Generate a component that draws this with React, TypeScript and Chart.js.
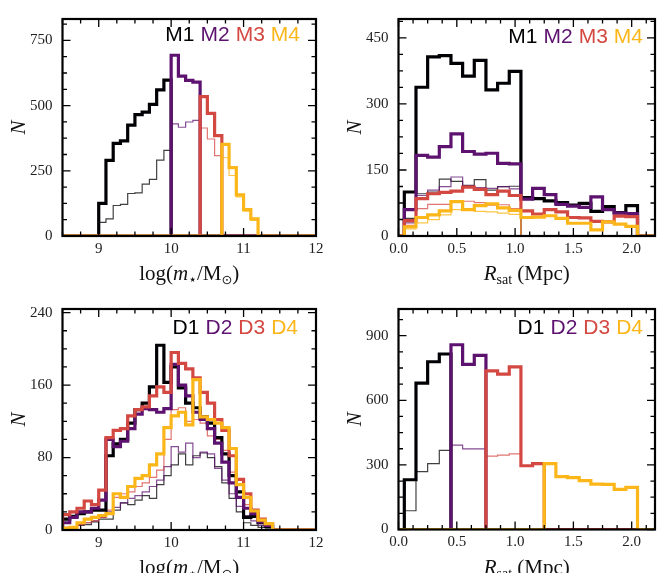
import React, { useEffect, useRef } from 'react';
import { Chart, registerables } from 'chart.js';

Chart.register(...registerables);

// ---------- colours ----------
const COLORS = ['#000004', '#5c126e', '#d44842', '#fbb61a'];
const THIN_COLORS = ['rgba(0,0,4,0.75)', 'rgba(92,18,110,0.75)', 'rgba(212,72,66,0.75)', 'rgba(251,182,26,0.8)'];

// ---------- panel 1: stellar mass, M samples ----------
const M_MASS_EDGES_1 = [9.0, 9.1, 9.2, 9.3, 9.4, 9.5, 9.6, 9.7, 9.8, 9.9, 10.0];
const M_MASS_EDGES_2 = [10.0, 10.1, 10.2, 10.3, 10.4];
const M_MASS_EDGES_3 = [10.4, 10.5, 10.6, 10.7];
const M_MASS_EDGES_4 = [10.7, 10.8, 10.9, 11.0, 11.1, 11.2];
const M_MASS_EDGES_4_THIN = [10.7, 10.8, 10.9, 11.0, 11.1, 11.2, 11.3];

const M1_MASS = [125, 290, 355, 365, 425, 465, 475, 505, 560, 598];
const M1_MASS_THIN = [52, 66, 117, 121, 163, 165, 199, 217, 291, 328];
const M2_MASS = [693, 613, 597, 590];
const M2_MASS_THIN = [430, 417, 437, 443];
const M3_MASS = [534, 470, 385];
const M3_MASS_THIN = [414, 372, 308];
const M4_MASS = [351, 262, 158, 101, 66];
const M4_MASS_THIN = [300, 232, 150, 95, 60, 5];

// ---------- panel 2: R_sat, M samples ----------
const RSAT_EDGES = [0.05, 0.15, 0.25, 0.35, 0.45, 0.55, 0.65, 0.75, 0.85, 0.95, 1.05,
  1.15, 1.25, 1.35, 1.45, 1.55, 1.65, 1.75, 1.85, 1.95, 2.05];
const RSAT_EDGES_INNER = [0.05, 0.15, 0.25, 0.35, 0.45, 0.55, 0.65, 0.75, 0.85, 0.95, 1.05];

const M1_RSAT = [100, 338, 407, 410, 392, 363, 399, 332, 347, 374, 87, 85, 80, 76, 70, 74, 56, 67, 53, 69];
const M2_RSAT = [60, 183, 179, 203, 232, 192, 186, 188, 165, 164, 84, 108, 94, 72, 68, 65, 89, 60, 52, 51];
const M3_RSAT = [35, 85, 96, 99, 102, 111, 106, 94, 102, 92, 57, 50, 60, 55, 42, 41, 33, 32, 45, 44];
const M4_RSAT = [21, 42, 48, 57, 78, 60, 69, 73, 64, 58, 42, 43, 46, 40, 29, 29, 14, 32, 27, 22];
const M1_RSAT_THIN = [40, 96, 100, 129, 124, 115, 128, 104, 112, 113];
const M2_RSAT_THIN = [30, 92, 104, 112, 134, 114, 110, 108, 112, 107];
const M3_RSAT_THIN = [24, 62, 72, 72, 78, 79, 76, 70, 71, 62];
const M4_RSAT_THIN = [16, 30, 37, 48, 60, 58, 56, 55, 52, 49];

// ---------- panel 3: stellar mass, D samples ----------
const D_MASS_EDGES = [8.5, 8.6, 8.7, 8.8, 8.9, 9.0, 9.1, 9.2, 9.3, 9.4, 9.5, 9.6, 9.7, 9.8, 9.9,
  10.0, 10.1, 10.2, 10.3, 10.4, 10.5, 10.6, 10.7, 10.8, 10.9, 11.0, 11.1, 11.2, 11.3, 11.4];

const D1_MASS = [12, 15, 18, 20, 22, 22, 82, 95, 100, 118, 133, 140, 158, 204, 163, 180, 157, 140, 135, 125, 118, 102, 84, 60, 42, 14, 15, 8, 4];
const D2_MASS = [8, 14, 20, 20, 24, 33, 100, 92, 98, 112, 128, 134, 133, 130, 134, 183, 160, 148, 130, 122, 112, 96, 75, 52, 36, 24, 18, 9, 5];
const D3_MASS = [17, 20, 24, 32, 28, 44, 102, 110, 112, 126, 133, 136, 148, 158, 152, 196, 184, 178, 168, 152, 140, 122, 110, 82, 56, 40, 22, 12, 7];
const D4_MASS = [2, 3, 8, 12, 14, 16, 18, 40, 36, 48, 57, 60, 72, 84, 113, 126, 130, 116, 166, 125, 122, 118, 113, 90, 50, 36, 21, 11, 7];
const D1_MASS_THIN = [2, 2, 5, 6, 9, 12, 12, 22, 30, 28, 33, 38, 35, 50, 60, 72, 84, 72, 82, 85, 80, 70, 52, 35, 20, 8, 5, 3, 2];
const D2_MASS_THIN = [3, 3, 6, 8, 10, 14, 20, 25, 30, 35, 38, 42, 48, 55, 70, 92, 86, 96, 80, 86, 84, 68, 55, 40, 26, 16, 10, 5, 3];
const D3_MASS_THIN = [2, 3, 6, 8, 10, 14, 22, 36, 40, 42, 48, 52, 58, 66, 100, 133, 135, 120, 122, 118, 104, 100, 88, 64, 42, 28, 16, 8, 5];

// ---------- panel 4: R_sat, D samples ----------
const D_RSAT_EDGES_1 = [0.05, 0.15, 0.25, 0.35, 0.45];
const D_RSAT_EDGES_2 = [0.45, 0.55, 0.65, 0.75];
const D_RSAT_EDGES_3 = [0.75, 0.85, 0.95, 1.05, 1.15, 1.25];
const D_RSAT_EDGES_4 = [1.25, 1.35, 1.45, 1.55, 1.65, 1.75, 1.85, 1.95, 2.05];

const D1_RSAT = [231, 680, 779, 815];
const D1_RSAT_THIN = [87, 269, 306, 367];
const D2_RSAT = [858, 767, 809];
const D2_RSAT_THIN = [392, 374, 374];
const D3_RSAT = [737, 722, 755, 296, 306];
const D3_RSAT_THIN = [341, 345, 351, 296, 306];
const D4_RSAT = [306, 246, 241, 227, 211, 210, 186, 196];

// ---------- tick labels ----------
const MASS_TICKS = [9, 10, 11, 12];
const RSAT_TICKS = [0, 0.5, 1.0, 1.5, 2.0];
const Y_TICKS_1 = [0, 250, 500, 750];
const Y_TICKS_2 = [0, 150, 300, 450];
const Y_TICKS_3 = [0, 80, 160, 240];
const Y_TICKS_4 = [0, 300, 600, 900];
const LEGEND_M = ['M1', 'M2', 'M3', 'M4'];
const LEGEND_D = ['D1', 'D2', 'D3', 'D4'];

type Series = { edges: number[]; values: number[]; idx: number; thin?: boolean };

interface PanelSpec {
  left: number; top: number; width: number; height: number;
  area: { left: number; right: number; top: number; bottom: number };
  xMin: number; xMax: number; yMax: number;
  xTicks: number[]; yTicks: number[]; kind: 'mass' | 'rsat';
  legend: string[]; legendRight: number; legendBase: number;
  series: Series[];
}

function buildSteps(edges: number[], values: number[], xMin: number, xMax: number) {
  const pts: { x: number; y: number }[] = [{ x: xMin, y: 0 }];
  for (let i = 0; i < values.length; i++) pts.push({ x: edges[i], y: values[i] });
  pts.push({ x: edges[values.length], y: 0 });
  pts.push({ x: xMax, y: 0 });
  return pts;
}

function minorValues(major: number[], min: number, max: number) {
  const step = (major[1] - major[0]) / 4;
  const out: number[] = [];
  const start = Math.ceil((min - 1e-9) / step);
  for (let k = start; k * step <= max + 1e-9; k++) {
    const v = k * step;
    if (!major.some((m) => Math.abs(m - v) < 1e-6)) out.push(v);
  }
  return out;
}

function drawRich(ctx: CanvasRenderingContext2D, pieces: { t: string; f: string; dy?: number }[], cx: number, base: number) {
  let total = 0;
  for (const p of pieces) { ctx.font = p.f; total += ctx.measureText(p.t).width; }
  let x = cx - total / 2;
  ctx.textAlign = 'left';
  ctx.textBaseline = 'alphabetic';
  for (const p of pieces) {
    ctx.font = p.f;
    ctx.fillText(p.t, x, base + (p.dy || 0));
    x += ctx.measureText(p.t).width;
  }
}

const SERIF = '"Liberation Serif", "DejaVu Serif", serif';

function decorPlugin(spec: PanelSpec) {
  return {
    id: 'decor',
    afterDatasetsDraw(chart: any) {
      const { ctx, chartArea: a } = chart;
      const xs = chart.scales.x;
      const ys = chart.scales.y;
      ctx.save();
      ctx.strokeStyle = '#000';
      ctx.lineWidth = 1.3;
      const majorLen = 8;
      const minorLen = 4.5;
      const xMinor = minorValues(spec.xTicks, spec.xMin, spec.xMax);
      const yMinor = minorValues(spec.yTicks, 0, spec.yMax);
      const drawX = (v: number, len: number) => {
        const px = xs.getPixelForValue(v);
        ctx.beginPath();
        ctx.moveTo(px, a.bottom); ctx.lineTo(px, a.bottom - len);
        ctx.moveTo(px, a.top); ctx.lineTo(px, a.top + len);
        ctx.stroke();
      };
      const drawY = (v: number, len: number) => {
        const py = ys.getPixelForValue(v);
        ctx.beginPath();
        ctx.moveTo(a.left, py); ctx.lineTo(a.left + len, py);
        ctx.moveTo(a.right, py); ctx.lineTo(a.right - len, py);
        ctx.stroke();
      };
      spec.xTicks.forEach((v) => drawX(v, majorLen));
      xMinor.forEach((v) => drawX(v, minorLen));
      spec.yTicks.forEach((v) => drawY(v, majorLen));
      yMinor.forEach((v) => drawY(v, minorLen));

      ctx.lineWidth = 2.2;
      ctx.strokeRect(a.left, a.top, a.right - a.left, a.bottom - a.top);

      // legend text
      ctx.font = '21px "Liberation Sans", Arial, sans-serif';
      ctx.textBaseline = 'alphabetic';
      ctx.textAlign = 'left';
      const gap = 6;
      let x = a.right - spec.legendRight;
      for (let i = spec.legend.length - 1; i >= 0; i--) {
        const w = ctx.measureText(spec.legend[i]).width;
        x -= w;
        ctx.fillStyle = COLORS[i];
        ctx.fillText(spec.legend[i], x, a.top + spec.legendBase);
        x -= gap;
      }

      // y title
      ctx.fillStyle = '#111';
      ctx.save();
      ctx.translate(a.left - 38, (a.top + a.bottom) / 2);
      ctx.rotate(-Math.PI / 2);
      ctx.font = 'italic 21px ' + SERIF;
      ctx.textAlign = 'center';
      ctx.textBaseline = 'alphabetic';
      ctx.fillText('N', 0, 0);
      ctx.restore();

      // x title
      const cx = (a.left + a.right) / 2;
      const base = a.bottom + 44;
      if (spec.kind === 'mass') {
        drawRich(ctx, [
          { t: 'log(', f: '21px ' + SERIF },
          { t: 'm', f: 'italic 21px ' + SERIF },
          { t: '\u22C6', f: '14px "DejaVu Sans"', dy: 4 },
          { t: '/M', f: '21px ' + SERIF },
          { t: '\u2299', f: '13px "DejaVu Sans"', dy: 4 },
          { t: ')', f: '21px ' + SERIF },
        ], cx, base);
      } else {
        drawRich(ctx, [
          { t: 'R', f: 'italic 21px ' + SERIF },
          { t: 'sat', f: '14px ' + SERIF, dy: 4 },
          { t: ' (Mpc)', f: '21px ' + SERIF },
        ], cx, base);
      }
      ctx.restore();
    },
  };
}

function Panel({ spec }: { spec: PanelSpec }) {
  const ref = useRef<HTMLCanvasElement>(null);
  useEffect(() => {
    const canvas = ref.current;
    if (!canvas) return;
    const a = spec.area;
    const datasets = spec.series.map((s, i) => ({
      data: buildSteps(s.edges, s.values, spec.xMin, spec.xMax),
      borderColor: s.thin ? THIN_COLORS[s.idx] : COLORS[s.idx],
      borderWidth: s.thin ? 1.2 : 3.2,
      stepped: 'before' as const,
      pointRadius: 0,
      fill: false,
      order: spec.series.length - i,
      borderJoinStyle: 'miter' as const,
      borderCapStyle: 'butt' as const,
    }));
    const tickFont = { family: SERIF, size: 15 };
    const chart = new Chart(canvas, {
      type: 'line',
      data: { datasets },
      options: {
        responsive: false,
        animation: false,
        devicePixelRatio: 1,
        events: [],
        layout: { padding: { top: a.top, right: spec.width - a.right, bottom: 0, left: 0 } },
        plugins: { legend: { display: false }, tooltip: { enabled: false } },
        scales: {
          x: {
            type: 'linear', min: spec.xMin, max: spec.xMax,
            grid: { display: false, drawTicks: false }, border: { display: false },
            afterBuildTicks: (sc: any) => { sc.ticks = spec.xTicks.map((v) => ({ value: v })); },
            afterFit: (sc: any) => { sc.height = spec.height - a.bottom; },
            ticks: {
              font: tickFont, color: '#222', padding: 4, maxRotation: 0, autoSkip: false,
              callback: (v: any) => (spec.kind === 'rsat' ? Number(v).toFixed(1) : String(v)),
            },
          },
          y: {
            type: 'linear', min: 0, max: spec.yMax,
            grid: { display: false, drawTicks: false }, border: { display: false },
            afterBuildTicks: (sc: any) => { sc.ticks = spec.yTicks.map((v) => ({ value: v })); },
            afterFit: (sc: any) => { sc.width = a.left; },
            ticks: { font: tickFont, color: '#222', padding: 10, autoSkip: false, callback: (v: any) => String(v) },
          },
        },
      } as any,
      plugins: [decorPlugin(spec) as any],
    });
    return () => chart.destroy();
  }, [spec]);
  return (
    <div style={{ position: 'absolute', left: spec.left, top: spec.top, width: spec.width, height: spec.height }}>
      <canvas ref={ref} width={spec.width} height={spec.height} style={{ display: 'block' }} />
    </div>
  );
}

const PANELS: PanelSpec[] = [
  {
    left: 0, top: 0, width: 331, height: 290,
    area: { left: 62.5, right: 316, top: 8.5, bottom: 236 },
    xMin: 8.5, xMax: 12, yMax: 832, xTicks: MASS_TICKS, yTicks: Y_TICKS_1, kind: 'mass',
    legend: LEGEND_M, legendRight: 16, legendBase: 22,
    series: [
      { edges: M_MASS_EDGES_1, values: M1_MASS_THIN, idx: 0, thin: true },
      { edges: M_MASS_EDGES_2, values: M2_MASS_THIN, idx: 1, thin: true },
      { edges: M_MASS_EDGES_3, values: M3_MASS_THIN, idx: 2, thin: true },
      { edges: M_MASS_EDGES_4_THIN, values: M4_MASS_THIN, idx: 3, thin: true },
      { edges: M_MASS_EDGES_1, values: M1_MASS, idx: 0 },
      { edges: M_MASS_EDGES_2, values: M2_MASS, idx: 1 },
      { edges: M_MASS_EDGES_3, values: M3_MASS, idx: 2 },
      { edges: M_MASS_EDGES_4, values: M4_MASS, idx: 3 },
    ],
  },
  {
    left: 331, top: 0, width: 332, height: 290,
    area: { left: 67.5, right: 324, top: 8.5, bottom: 236 },
    xMin: 0, xMax: 2.2, yMax: 493, xTicks: RSAT_TICKS, yTicks: Y_TICKS_2, kind: 'rsat',
    legend: LEGEND_M, legendRight: 12, legendBase: 24,
    series: [
      { edges: RSAT_EDGES_INNER, values: M1_RSAT_THIN, idx: 0, thin: true },
      { edges: RSAT_EDGES_INNER, values: M2_RSAT_THIN, idx: 1, thin: true },
      { edges: RSAT_EDGES_INNER, values: M3_RSAT_THIN, idx: 2, thin: true },
      { edges: RSAT_EDGES_INNER, values: M4_RSAT_THIN, idx: 3, thin: true },
      { edges: RSAT_EDGES, values: M1_RSAT, idx: 0 },
      { edges: RSAT_EDGES, values: M2_RSAT, idx: 1 },
      { edges: RSAT_EDGES, values: M3_RSAT, idx: 2 },
      { edges: RSAT_EDGES, values: M4_RSAT, idx: 3 },
    ],
  },
  {
    left: 0, top: 290, width: 331, height: 283,
    area: { left: 62.5, right: 316, top: 13.5, bottom: 240 },
    xMin: 8.5, xMax: 12, yMax: 244, xTicks: MASS_TICKS, yTicks: Y_TICKS_3, kind: 'mass',
    legend: LEGEND_D, legendRight: 18, legendBase: 25,
    series: [
      { edges: D_MASS_EDGES, values: D1_MASS_THIN, idx: 0, thin: true },
      { edges: D_MASS_EDGES, values: D2_MASS_THIN, idx: 1, thin: true },
      { edges: D_MASS_EDGES, values: D3_MASS_THIN, idx: 2, thin: true },
      { edges: D_MASS_EDGES, values: D1_MASS, idx: 0 },
      { edges: D_MASS_EDGES, values: D2_MASS, idx: 1 },
      { edges: D_MASS_EDGES, values: D3_MASS, idx: 2 },
      { edges: D_MASS_EDGES, values: D4_MASS, idx: 3 },
    ],
  },
  {
    left: 331, top: 290, width: 332, height: 283,
    area: { left: 67.5, right: 324, top: 13.5, bottom: 239.5 },
    xMin: 0, xMax: 2.2, yMax: 1024, xTicks: RSAT_TICKS, yTicks: Y_TICKS_4, kind: 'rsat',
    legend: LEGEND_D, legendRight: 12, legendBase: 25,
    series: [
      { edges: D_RSAT_EDGES_1, values: D1_RSAT_THIN, idx: 0, thin: true },
      { edges: D_RSAT_EDGES_2, values: D2_RSAT_THIN, idx: 1, thin: true },
      { edges: D_RSAT_EDGES_3, values: D3_RSAT_THIN, idx: 2, thin: true },
      { edges: D_RSAT_EDGES_1, values: D1_RSAT, idx: 0 },
      { edges: D_RSAT_EDGES_2, values: D2_RSAT, idx: 1 },
      { edges: D_RSAT_EDGES_3, values: D3_RSAT, idx: 2 },
      { edges: D_RSAT_EDGES_4, values: D4_RSAT, idx: 3 },
    ],
  },
];

export default function App() {
  return (
    <div style={{ position: 'absolute', left: 0, top: 0, width: 663, height: 573, background: '#fff', overflow: 'hidden' }}>
      {PANELS.map((p, i) => <Panel key={i} spec={p} />)}
    </div>
  );
}
